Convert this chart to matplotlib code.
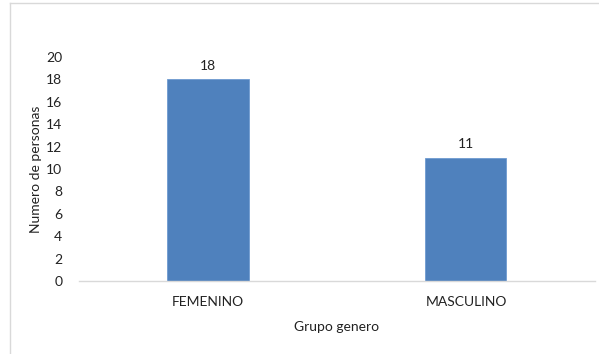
import matplotlib
matplotlib.use("Agg")
import matplotlib.pyplot as plt
from matplotlib.lines import Line2D

categories = ["FEMENINO", "MASCULINO"]
counts = [18, 11]
y_ticks = [0, 2, 4, 6, 8, 10, 12, 14, 16, 18, 20]

plt.rcParams['font.family'] = ['Lato', 'DejaVu Sans']

fig = plt.figure(figsize=(5.99, 3.54), dpi=100)
ax = fig.add_axes([0.1319, 0.2062, 0.8614, 0.6328])

x = range(len(categories))
bars = ax.bar(x, counts, width=0.314, color="#4f81bd", edgecolor="#6f9ad0", linewidth=0.6)

for rect, v in zip(bars, counts):
    ax.text(rect.get_x() + rect.get_width() / 2, v + 0.7, str(v),
            ha="center", va="bottom", fontsize=10, color="#222222")

ax.set_xlim(-0.5, 1.5)
ax.set_ylim(0, 20)
ax.set_yticks(y_ticks)
ax.set_xticks(list(x))
ax.set_xticklabels(categories)
ax.tick_params(axis="both", length=0, labelsize=10, colors="#222222")
ax.tick_params(axis="x", pad=11)
ax.tick_params(axis="y", pad=12)

for side in ["top", "right", "left"]:
    ax.spines[side].set_visible(False)
ax.spines["bottom"].set_color("#d9d9d9")
ax.spines["bottom"].set_linewidth(1)

ax.set_ylabel("Numero de personas", fontsize=10, color="#222222", labelpad=3)
ax.set_xlabel("Grupo genero", fontsize=10, color="#222222", labelpad=9)

# outer chart border (left and top edges visible)
fig.add_artist(Line2D([10 / 599, 10 / 599], [0, 1 - 2.5 / 354], transform=fig.transFigure,
                      color="#d9d9d9", linewidth=1))
fig.add_artist(Line2D([10 / 599, 1], [1 - 2.5 / 354, 1 - 2.5 / 354], transform=fig.transFigure,
                      color="#d9d9d9", linewidth=1))

fig.savefig("out.png", dpi=100)
